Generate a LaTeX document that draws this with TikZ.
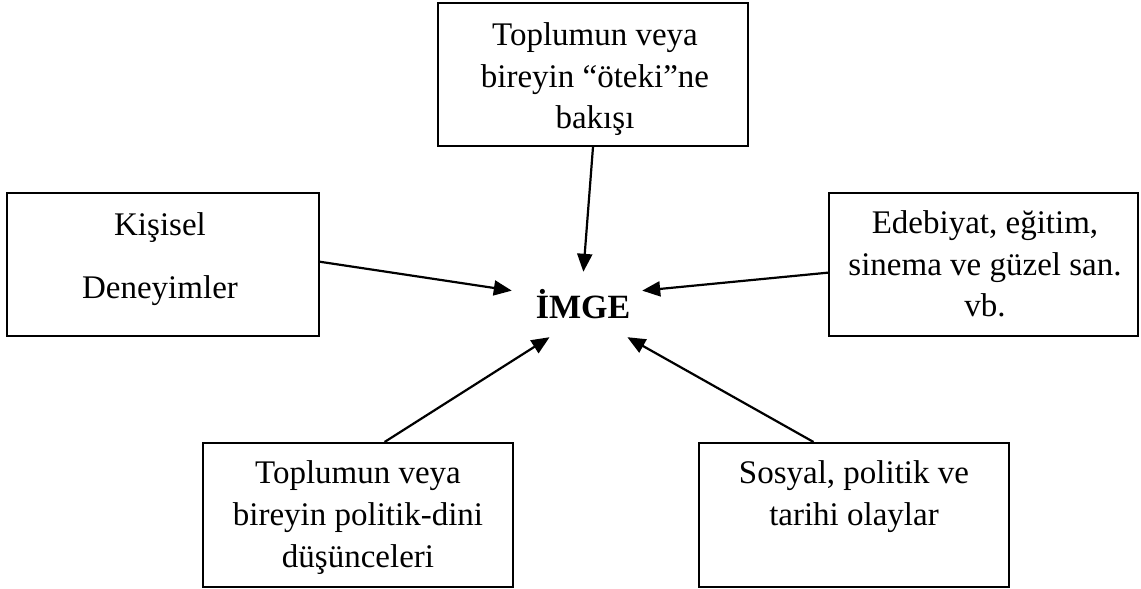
\documentclass[tikz,border=0pt]{standalone}
\usepackage{fontspec}
\setmainfont{Liberation Serif}
\usetikzlibrary{arrows.meta}
\begin{document}
\begin{tikzpicture}[x=1pt,y=-1pt,
  box/.style={draw, line width=2pt, inner sep=0pt, rectangle},
  txt/.style={anchor=base, inner sep=0pt, font=\fontsize{33}{40}\selectfont},
  arr/.style={line width=2.2pt, -{Triangle[length=18pt,width=15pt]}}]
\useasboundingbox (0,0) rectangle (1141,589);
% boxes
\node[box, minimum width=310pt, minimum height=143pt] (top) at (593,74.5) {};
\node[box, minimum width=312pt, minimum height=143pt] (left) at (163,264.5) {};
\node[box, minimum width=309pt, minimum height=143pt] (right) at (983.5,264.5) {};
\node[box, minimum width=310pt, minimum height=144pt] (bl) at (358,515) {};
\node[box, minimum width=310pt, minimum height=144pt] (br) at (854,515) {};
% texts
\node[txt] (top1) at (595,45) {Toplumun veya};
\node[txt] (top2) at (595,87) {bireyin “öteki”ne};
\node[txt] (top3) at (595,128) {bakışı};
\node[txt] (left1) at (160,235) {Kişisel};
\node[txt] (left2) at (160,298) {Deneyimler};
\node[txt] (right1) at (985,233) {Edebiyat, eğitim,};
\node[txt] (right2) at (985,275) {sinema ve güzel san.};
\node[txt] (right3) at (985,316) {vb.};
\node[txt] (bl1) at (358,483) {Toplumun veya};
\node[txt] (bl2) at (358,525) {bireyin politik-dini};
\node[txt] (bl3) at (358,567) {düşünceleri};
\node[txt] (br1) at (854,483) {Sosyal, politik ve};
\node[txt] (br2) at (854,525) {tarihi olaylar};
% centre
\node[inner sep=0pt, minimum width=130pt, minimum height=65pt] (img) at (577,304.5) {};
\node[anchor=base, inner sep=0pt, font=\bfseries\fontsize{34}{40}\selectfont] (imgtxt) at (583,318) {İMGE};
% arrows
\draw[arr] (top.south) -- (img.79.5);
\draw[arr] (left.1.3) -- (img.168.3);
\draw[arr] (right.183.1) -- (img.12.6);
\draw[arr] (bl.70.1) -- (img.230.3);
\draw[arr] (br.119.7) -- (img.327);
\end{tikzpicture}
\end{document}
